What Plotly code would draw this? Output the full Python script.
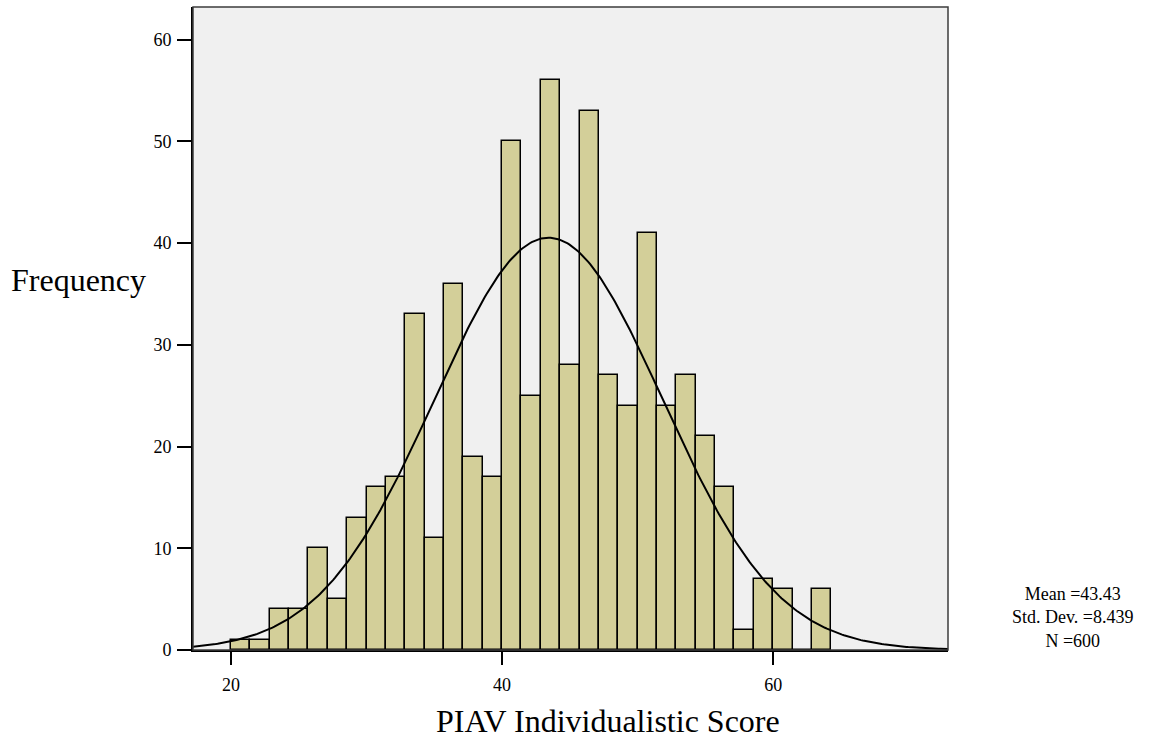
import numpy as np
import plotly.graph_objects as go

# Histogram of PIAV Individualistic Score (bins of width 10/7 starting at 20)
bin_start = 20.0
bin_width = 10.0 / 7.0
counts = [1, 1, 4, 4, 10, 5, 13, 16, 17, 33, 11, 36, 19, 17, 50, 25,
          56, 28, 53, 27, 24, 41, 24, 27, 21, 16, 2, 7, 6, 0, 6]

mean_val = 43.43
sd_val = 8.439
n_val = 600

x_ticks = [20, 40, 60]
y_ticks = [0, 10, 20, 30, 40, 50, 60]
x_range = [17.2, 72.9]
y_range = [0, 63.2]

centers = [bin_start + (i + 0.5) * bin_width for i in range(len(counts))]

# Fitted normal curve scaled to counts per bin
xc = np.linspace(x_range[0], x_range[1], 400)
yc = n_val * bin_width / (sd_val * np.sqrt(2 * np.pi)) * np.exp(-0.5 * ((xc - mean_val) / sd_val) ** 2)

serif = "Liberation Serif"

fig = go.Figure()
fig.add_trace(go.Bar(
    x=centers, y=counts, width=bin_width,
    marker=dict(color="rgb(211,207,153)", line=dict(color="black", width=1.5)),
    hoverinfo="x+y",
))
fig.add_trace(go.Scatter(
    x=xc, y=yc, mode="lines", line=dict(color="black", width=2),
    hoverinfo="skip",
))

fig.update_layout(
    width=1162, height=738,
    margin=dict(l=193, r=214, t=7, b=88),
    paper_bgcolor="white",
    plot_bgcolor="rgb(240,240,240)",
    showlegend=False,
    bargap=0,
    font=dict(family=serif, color="black", size=18),
    xaxis=dict(
        range=x_range, tickvals=x_ticks, ticks="outside", ticklen=13, tickwidth=2,
        tickcolor="black", showgrid=False, zeroline=False,
        showline=True, linecolor="black", linewidth=2,
        tickfont=dict(family=serif, size=18), ticklabelstandoff=4,
    ),
    yaxis=dict(
        range=y_range, tickvals=y_ticks, ticks="outside", ticklen=14, tickwidth=2,
        tickcolor="black", showgrid=False, zeroline=False,
        showline=True, linecolor="black", linewidth=2,
        tickfont=dict(family=serif, size=18), ticklabelstandoff=2,
    ),
    shapes=[dict(type="rect", xref="paper", yref="paper", x0=0, y0=0, x1=1, y1=1,
                 line=dict(color="rgb(60,60,60)", width=1.5), layer="above")],
    annotations=[
        dict(text="Frequency", xref="paper", yref="paper", x=-0.152, y=0.575,
             xanchor="center", yanchor="middle", showarrow=False,
             font=dict(family=serif, size=32)),
        dict(text="PIAV Individualistic Score", xref="paper", yref="paper",
             x=0.55, y=-0.11, xanchor="center", yanchor="middle", showarrow=False,
             font=dict(family=serif, size=32)),
        dict(text=f"Mean ={mean_val:.2f}<br>Std. Dev. ={sd_val:.3f}<br>N ={n_val}",
             xref="paper", yref="paper", x=1.165, y=0.051, xanchor="center",
             yanchor="middle", align="center", showarrow=False,
             font=dict(family=serif, size=18)),
    ],
)

fig.write_html("out.html")
